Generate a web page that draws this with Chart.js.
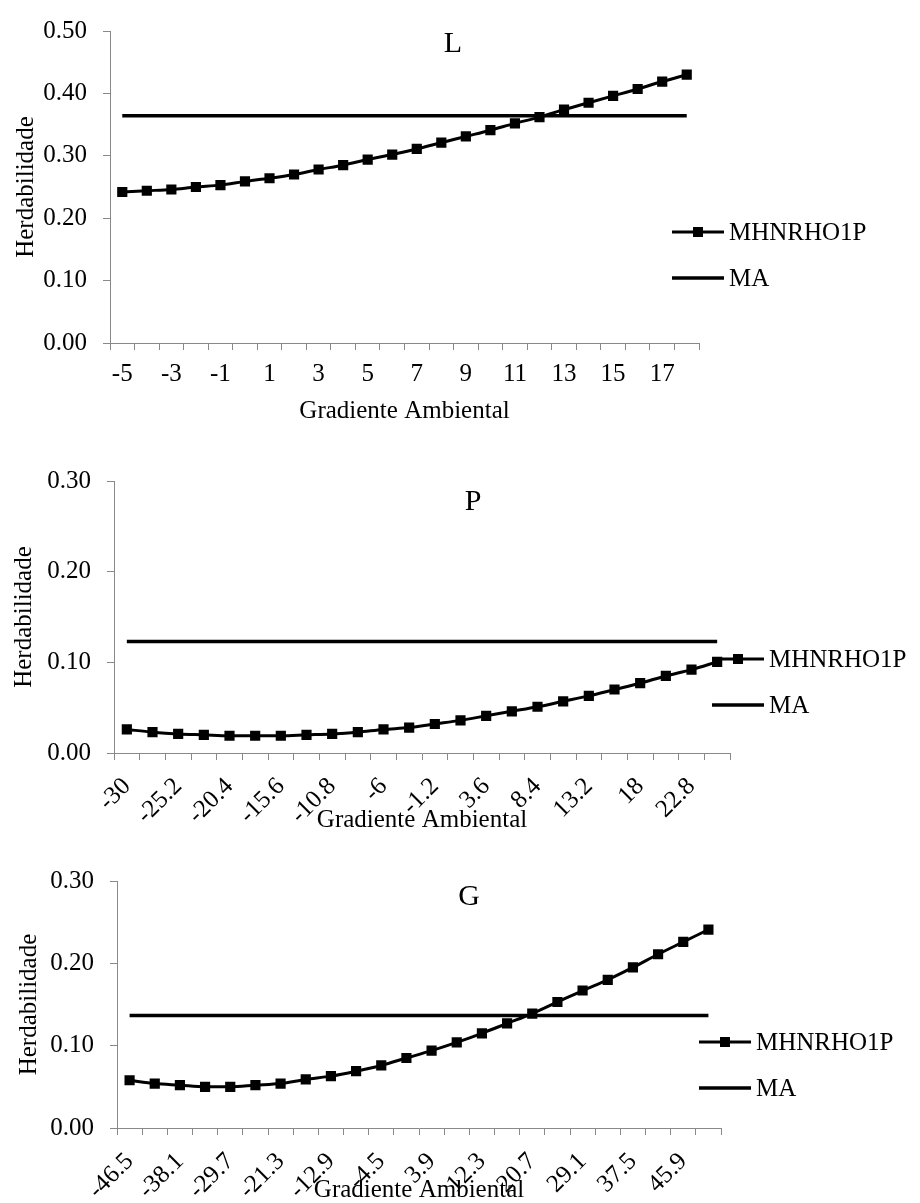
<!DOCTYPE html>
<html>
<head>
<meta charset="utf-8">
<script src="https://cdn.jsdelivr.net/npm/chart.js@4"></script>
<style>
  html, body { margin: 0; padding: 0; background: #fff; }
  .panel { position: absolute; left: 0; width: 920px; }
</style>
</head>
<body>
<div class="panel" style="top:0px;height:430px"><canvas id="chartL"></canvas></div>
<div class="panel" style="top:450px;height:390px"><canvas id="chartP"></canvas></div>
<div class="panel" style="top:850px;height:353px"><canvas id="chartG"></canvas></div>
<script>
// Gradiente ambiental (categorias) e herdabilidades
const gradL = [-5, -4, -3, -2, -1, 0, 1, 2, 3, 4, 5, 6, 7, 8, 9, 10, 11, 12, 13, 14, 15, 16, 17, 18];
const herdL = [0.242, 0.244, 0.246, 0.250, 0.253, 0.259, 0.264, 0.270, 0.278, 0.285, 0.294, 0.302,
               0.311, 0.321, 0.331, 0.341, 0.352, 0.362, 0.374, 0.385, 0.396, 0.407, 0.419, 0.430];
const maL = 0.364;

const gradP = [-30, -27.6, -25.2, -22.8, -20.4, -18, -15.6, -13.2, -10.8, -8.4, -6, -3.6,
               -1.2, 1.2, 3.6, 6, 8.4, 10.8, 13.2, 15.6, 18, 20.4, 22.8, 25.2];
const herdP = [0.026, 0.023, 0.021, 0.020, 0.019, 0.019, 0.019, 0.020, 0.021, 0.023, 0.026, 0.028,
               0.032, 0.036, 0.041, 0.046, 0.051, 0.057, 0.063, 0.070, 0.077, 0.085, 0.092, 0.1005];
const maP = 0.123;

const gradG = [-46.5, -42.3, -38.1, -33.9, -29.7, -25.5, -21.3, -17.1, -12.9, -8.7, -4.5, -0.3,
               3.9, 8.1, 12.3, 16.5, 20.7, 24.9, 29.1, 33.3, 37.5, 41.7, 45.9, 50.1];
const herdG = [0.058, 0.054, 0.052, 0.050, 0.050, 0.052, 0.054, 0.059, 0.063, 0.069, 0.076, 0.085,
               0.094, 0.104, 0.115, 0.127, 0.139, 0.153, 0.167, 0.180, 0.195, 0.211, 0.226, 0.241];
const maG = 0.1365;

const serif = '"Liberation Serif", "Times New Roman", serif';
Chart.defaults.font.family = serif;
Chart.defaults.color = '#000';
const axisGray = '#898989';
const txt = 25;

// título do painel e legenda desenhados à mão (posição como no Excel)
const panelDeco = {
  id: 'panelDeco',
  afterDraw(chart, args, opts) {
    const ctx = chart.ctx;
    ctx.save();
    ctx.fillStyle = '#000';
    ctx.textBaseline = 'middle';
    ctx.font = '30px ' + serif;
    ctx.textAlign = 'center';
    ctx.fillText(opts.title, opts.titleX, opts.titleY);
    ctx.font = txt + 'px ' + serif;
    ctx.textAlign = 'left';
    chart.data.datasets.forEach((ds, i) => {
      const y = opts.legendY + i * 46;
      const x = opts.legendX;
      ctx.strokeStyle = '#000';
      ctx.lineWidth = ds.borderWidth;
      ctx.beginPath();
      ctx.moveTo(x, y);
      ctx.lineTo(x + 52, y);
      ctx.stroke();
      if (ds.pointRadius > 0) {
        ctx.fillRect(x + 21, y - 5, 10, 10);
      }
      ctx.fillText(ds.label, x + 57, y + 1);
    });
    ctx.restore();
  }
};

function makeChart(id, labels, values, ma, cfg) {
  const ctx = document.getElementById(id).getContext('2d');
  return new Chart(ctx, {
    type: 'line',
    data: {
      labels: labels,
      datasets: [{
        label: 'MHNRHO1P',
        data: values,
        borderColor: '#000',
        backgroundColor: '#000',
        borderWidth: 3,
        pointStyle: 'rect',
        pointRadius: 7.2,
        pointBorderWidth: 0,
        pointBackgroundColor: '#000',
        cubicInterpolationMode: 'monotone'
      }, {
        label: 'MA',
        data: labels.map(() => ma),
        borderColor: '#000',
        borderWidth: 3.5,
        pointRadius: 0
      }]
    },
    options: {
      responsive: true,
      maintainAspectRatio: false,
      animation: false,
      layout: { padding: { top: cfg.padTop, right: cfg.padRight, left: 0, bottom: 0 } },
      plugins: {
        legend: { display: false },
        tooltip: { enabled: false },
        panelDeco: cfg.deco
      },
      scales: {
        x: {
          offset: true,
          afterFit: (s) => { s.height = cfg.xHeight; },
          grid: { offset: true, drawOnChartArea: false, tickLength: 7, color: axisGray },
          border: { color: axisGray, width: 1 },
          ticks: {
            autoSkip: false,
            maxRotation: cfg.rot,
            minRotation: cfg.rot,
            padding: cfg.xPad,
            font: { size: txt },
            callback: function (v, i) { return i % 2 === 0 ? this.getLabelForValue(v) : ''; }
          },
          title: {
            display: true,
            text: 'Gradiente Ambiental',
            font: { size: txt, lineHeight: 1 },
            padding: { top: 0, bottom: cfg.xTitlePad }
          }
        },
        y: {
          min: 0,
          max: cfg.yMax,
          afterFit: (s) => { s.width = cfg.yWidth; },
          grid: { drawOnChartArea: false, tickLength: 7, color: axisGray },
          border: { color: axisGray, width: 1 },
          ticks: {
            stepSize: 0.1,
            padding: 16,
            font: { size: txt },
            callback: (v) => v.toFixed(2)
          },
          title: {
            display: true,
            text: 'Herdabilidade',
            font: { size: txt, lineHeight: 1 },
            padding: { top: cfg.yTitlePad, bottom: 0 }
          }
        }
      }
    },
    plugins: [panelDeco]
  });
}

makeChart('chartL', gradL, herdL, maL, {
  padTop: 25, padRight: 221, xHeight: 87, yWidth: 110, yMax: 0.5, rot: 0,
  xPad: 9, xTitlePad: 6, yTitlePad: 14,
  deco: { title: 'L', titleX: 453, titleY: 44, legendX: 672, legendY: 232 }
});

makeChart('chartP', gradP, herdP, maP, {
  padTop: 31, padRight: 190, xHeight: 87, yWidth: 114, yMax: 0.3, rot: 45,
  xPad: 12, xTitlePad: 7, yTitlePad: 12,
  deco: { title: 'P', titleX: 473, titleY: 52, legendX: 712, legendY: 209 }
});

makeChart('chartG', gradG, herdG, maG, {
  padTop: 23, padRight: 199, xHeight: 75, yWidth: 117, yMax: 0.3, rot: 45,
  xPad: 12, xTitlePad: 0, yTitlePad: 17,
  deco: { title: 'G', titleX: 469, titleY: 47, legendX: 699, legendY: 192 }
});
</script>
</body>
</html>
